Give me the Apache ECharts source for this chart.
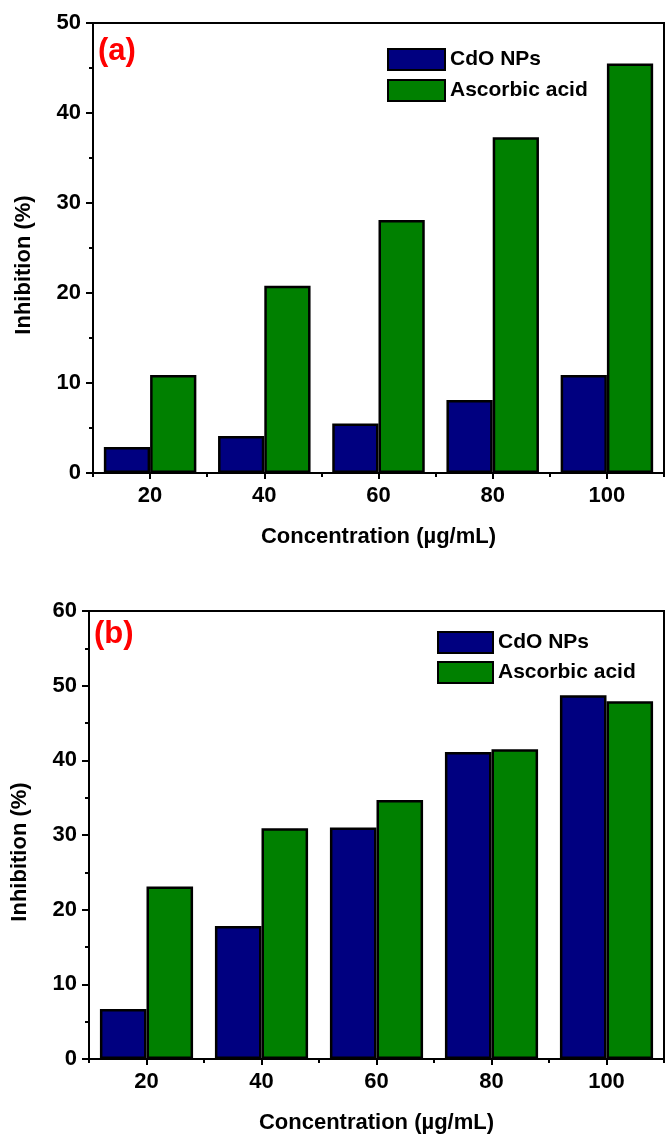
<!DOCTYPE html>
<html>
<head>
<meta charset="utf-8">
<script src="https://cdn.jsdelivr.net/npm/echarts@6/dist/echarts.min.js"></script>
<style>
  html, body { margin: 0; padding: 0; background: #fff; }
  #chart { width: 665px; height: 1135px; }
</style>
</head>
<body>
<div id="chart"></div>
<script>
// concentrations (ug/mL)
const categories = ['20', '40', '60', '80', '100'];
const seriesNames = ['CdO NPs', 'Ascorbic acid'];
// panel (a)
const cdoA = [2.9, 4.1, 5.5, 8.1, 10.9];
const ascorbicA = [10.9, 20.8, 28.1, 37.3, 45.5];
// panel (b)
const cdoB = [6.7, 17.8, 31.0, 41.1, 48.7];
const ascorbicB = [23.1, 30.9, 34.7, 41.5, 47.9];

const FONT = 'Liberation Sans, Arial, sans-serif';
const BLUE = '#000080';
const GREEN = '#008000';

let myChart = echarts.init(document.getElementById('chart'));

function mainX(gridIndex) {
  return {
    type: 'category',
    gridIndex: gridIndex,
    data: categories,
    position: 'bottom',
    name: 'Concentration (µg/mL)',
    nameLocation: 'middle',
    nameGap: 53,
    nameTextStyle: { fontFamily: FONT, fontWeight: 'bold', fontSize: 22, color: '#000' },
    axisLine: { show: true, lineStyle: { color: '#000', width: 2 } },
    axisTick: { show: true, alignWithLabel: true, length: 6, lineStyle: { color: '#000', width: 2 } },
    axisLabel: { fontFamily: FONT, fontWeight: 'bold', fontSize: 22, color: '#000', margin: 12 },
    splitLine: { show: false }
  };
}

// second axis only for the ticks between groups
function boundaryX(gridIndex) {
  return {
    type: 'category',
    gridIndex: gridIndex,
    data: categories,
    position: 'bottom',
    axisLine: { show: false },
    axisTick: { show: true, alignWithLabel: false, length: 4, lineStyle: { color: '#000', width: 2 } },
    axisLabel: { show: false },
    splitLine: { show: false }
  };
}

function valueY(gridIndex, max) {
  return {
    type: 'value',
    gridIndex: gridIndex,
    min: 0,
    max: max,
    interval: 10,
    name: 'Inhibition (%)',
    nameLocation: 'middle',
    nameGap: 58,
    nameTextStyle: { fontFamily: FONT, fontWeight: 'bold', fontSize: 22, color: '#000', padding: [0, 34, 0, 0] },
    axisLine: { show: true, lineStyle: { color: '#000', width: 2 } },
    axisTick: { show: true, length: 7, lineStyle: { color: '#000', width: 2 } },
    minorTick: { show: true, splitNumber: 2, length: 4, lineStyle: { color: '#000', width: 2 } },
    axisLabel: { fontFamily: FONT, fontWeight: 'bold', fontSize: 22, color: '#000', margin: 12 },
    splitLine: { show: false }
  };
}

function barSeries(name, color, data, axisIdx) {
  return {
    type: 'bar',
    name: name,
    xAxisIndex: axisIdx,
    yAxisIndex: axisIdx === 0 ? 0 : 1,
    data: data,
    barGap: '0%',
    barCategoryGap: '19%',
    itemStyle: { color: color, borderColor: '#000', borderWidth: 2.5 }
  };
}

function legendAt(left, top, w, h, gap) {
  return {
    orient: 'vertical',
    left: left,
    top: top,
    data: seriesNames,
    icon: 'rect',
    itemWidth: w,
    itemHeight: h,
    itemGap: gap,
    selectedMode: false,
    textStyle: { fontFamily: FONT, fontWeight: 'bold', fontSize: 21, color: '#000' }
  };
}

let option = {
  animation: false,
  backgroundColor: '#fff',
  grid: [
    { left: 93, top: 23, width: 571, height: 450, show: true, borderColor: '#000', borderWidth: 2 },
    { left: 89, top: 611, width: 575, height: 450, show: true, borderColor: '#000', borderWidth: 2 }
  ],
  xAxis: [mainX(0), boundaryX(0), mainX(1), boundaryX(1)],
  yAxis: [valueY(0, 50), valueY(1, 60)],
  legend: [
    legendAt(382, 43, 57, 21, 8),
    legendAt(432, 626, 55, 21, 7)
  ],
  series: [
    barSeries(seriesNames[0], BLUE, cdoA, 0),
    barSeries(seriesNames[1], GREEN, ascorbicA, 0),
    barSeries(seriesNames[0], BLUE, cdoB, 2),
    barSeries(seriesNames[1], GREEN, ascorbicB, 2)
  ],
  graphic: [
    { type: 'text', left: 98, top: 36, style: { text: '(a)', fill: '#ff0000', font: 'bold 31px ' + FONT } },
    { type: 'text', left: 94, top: 619, style: { text: '(b)', fill: '#ff0000', font: 'bold 31px ' + FONT } }
  ]
};

myChart.setOption(option);
</script>
</body>
</html>
